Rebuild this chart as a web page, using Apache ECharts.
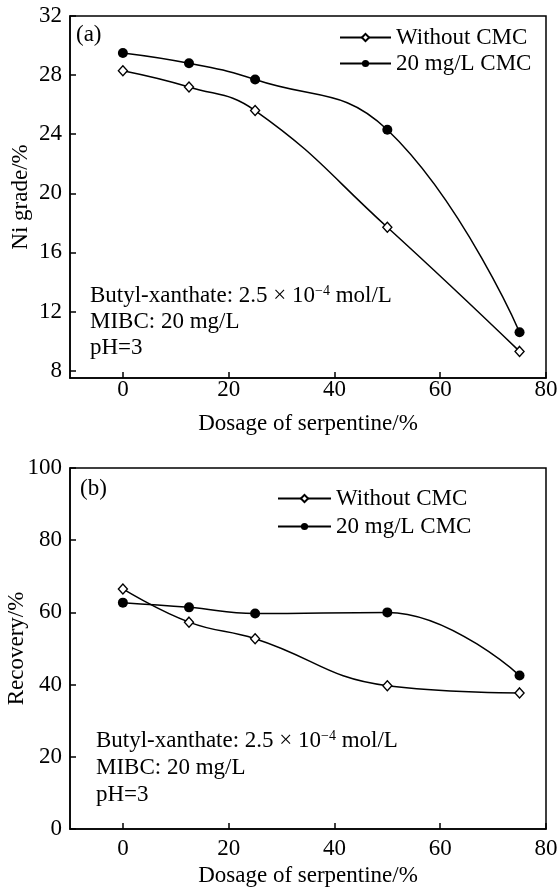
<!DOCTYPE html>
<html>
<head>
<meta charset="utf-8">
<script src="https://cdn.jsdelivr.net/npm/echarts@6/dist/echarts.min.js"></script>
<style>
  html, body { margin: 0; padding: 0; background: #fff; }
  #chart { width: 557px; height: 887px; }
</style>
</head>
<body>
<div id="chart"></div>
<script>
// Serpentine dosage (%) at which each flotation test was run
const dosage = [0, 12.5, 25, 50, 75];

// (a) Ni grade of the concentrate, %
const gradeWithout = [28.3, 27.2, 25.6, 17.7, 9.3];
const gradeCMC = [29.5, 28.8, 27.7, 24.3, 10.6];

// (b) Ni recovery, %
const recWithout = [66.5, 57.3, 52.7, 39.7, 37.7];
const recCMC = [62.7, 61.4, 59.7, 60.0, 42.5];

// Tick labels
const xTicks = [0, 20, 40, 60, 80];
const gradeTicks = [8, 12, 16, 20, 24, 28, 32];
const recTicks = [0, 20, 40, 60, 80, 100];

const seriesNames = ['Without CMC', '20 mg/L CMC'];

const FONT = '"Liberation Serif", "Times New Roman", serif';
const FS = 23;

const pairs = (ys) => dosage.map((x, i) => [x, ys[i]]);

function xAxisCfg(gridIndex, margin, nameGap) {
  return {
    type: 'value', gridIndex, min: -10, max: 80,
    name: 'Dosage of serpentine/%', nameLocation: 'middle', nameGap,
    nameMoveOverlap: false,
    nameTextStyle: { fontFamily: FONT, fontSize: FS, color: '#000' },
    axisLine: { show: true, onZero: false, lineStyle: { color: '#000', width: 1.5 } },
    axisTick: { show: true, inside: true, length: 6, customValues: xTicks, lineStyle: { color: '#000', width: 1.5 } },
    axisLabel: { customValues: xTicks, margin, fontFamily: FONT, fontSize: FS, color: '#000' },
    splitLine: { show: false }
  };
}

function yAxisCfg(gridIndex, min, max, ticks, name, nameGap) {
  return {
    type: 'value', gridIndex, min, max,
    name, nameLocation: 'middle', nameGap,
    nameMoveOverlap: false,
    nameTextStyle: { fontFamily: FONT, fontSize: FS, color: '#000' },
    axisLine: { show: true, onZero: false, lineStyle: { color: '#000', width: 1.5 } },
    axisTick: { show: true, inside: true, length: 6, customValues: ticks, lineStyle: { color: '#000', width: 1.5 } },
    axisLabel: { customValues: ticks, margin: 8, fontFamily: FONT, fontSize: FS, color: '#000' },
    splitLine: { show: false }
  };
}

function lineSeries(name, data, idx, hollow) {
  return {
    name, type: 'line', xAxisIndex: idx, yAxisIndex: idx,
    data, smooth: 0.45,
    symbol: hollow ? 'diamond' : 'circle',
    symbolSize: hollow ? [9, 10] : 10,
    showAllSymbol: true,
    lineStyle: { color: '#000', width: 1.5 },
    itemStyle: hollow
      ? { color: '#fff', borderColor: '#000', borderWidth: 1.4 }
      : { color: '#000', borderColor: '#000', borderWidth: 0 },
    emphasis: { disabled: true },
    z: hollow ? 3 : 2
  };
}

function legendCfg(left, top, itemWidth, itemGap) {
  return {
    data: seriesNames, orient: 'vertical', left, top,
    padding: 0, itemWidth, itemHeight: 9, itemGap,
    selectedMode: false,
    textStyle: { fontFamily: FONT, fontSize: FS, color: '#000' }
  };
}

function noteLines(x, y0, step) {
  const rich = {
    n: { fontFamily: FONT, fontSize: FS, fill: '#000' },
    s: { fontFamily: FONT, fontSize: 14, fill: '#000', verticalAlign: 'top', lineHeight: 14 }
  };
  return [
    { type: 'text', x, y: y0, style: { text: '{n|Butyl-xanthate: 2.5 × 10}{s|−4}{n| mol/L}', rich, verticalAlign: 'middle' } },
    { type: 'text', x, y: y0 + step, style: { text: 'MIBC: 20 mg/L', font: FS + 'px ' + FONT, fill: '#000', verticalAlign: 'middle' } },
    { type: 'text', x, y: y0 + 2 * step, style: { text: 'pH=3', font: FS + 'px ' + FONT, fill: '#000', verticalAlign: 'middle' } }
  ];
}

const chart = echarts.init(document.getElementById('chart'), null, { renderer: 'canvas' });

const gridBase = {
  left: 70, width: 476, show: true, borderColor: '#000', borderWidth: 1.5,
  backgroundColor: 'transparent', containLabel: false, outerBoundsMode: 'none'
};

chart.setOption({
  backgroundColor: '#fff',
  animation: false,
  grid: [
    Object.assign({}, gridBase, { top: 16, height: 362 }),
    Object.assign({}, gridBase, { top: 468, height: 361 })
  ],
  xAxis: [xAxisCfg(0, 0, 34), xAxisCfg(1, 8, 35)],
  yAxis: [
    yAxisCfg(0, 7.5, 32, gradeTicks, 'Ni grade/%', 38),
    yAxisCfg(1, 0, 100, recTicks, 'Recovery/%', 42)
  ],
  legend: [legendCfg(339, 26, 51, 3), legendCfg(277, 487, 53, 5)],
  series: [
    lineSeries(seriesNames[0], pairs(gradeWithout), 0, true),
    lineSeries(seriesNames[1], pairs(gradeCMC), 0, false),
    lineSeries(seriesNames[0], pairs(recWithout), 1, true),
    lineSeries(seriesNames[1], pairs(recCMC), 1, false)
  ],
  graphic: [
    { type: 'text', x: 76, y: 35, style: { text: '(a)', font: FS + 'px ' + FONT, fill: '#000', verticalAlign: 'middle' } },
    { type: 'text', x: 80, y: 489, style: { text: '(b)', font: FS + 'px ' + FONT, fill: '#000', verticalAlign: 'middle' } },
    ...noteLines(90, 296, 26),
    ...noteLines(96, 741, 27)
  ]
});
</script>
</body>
</html>
